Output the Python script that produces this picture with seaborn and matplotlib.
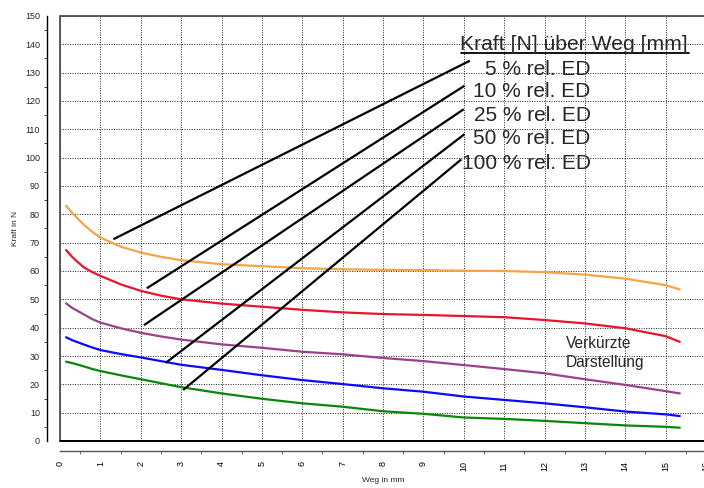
import matplotlib
matplotlib.use("Agg")
import matplotlib.pyplot as plt
import seaborn as sns
import pandas as pd
from matplotlib.patches import Rectangle

weg = [0.15, 0.3, 0.45, 0.6, 0.8, 1, 1.5, 2, 2.5, 3, 4, 5, 6, 7, 8, 9, 10, 11, 12, 13, 14, 15, 15.35]
kraft_5 = [83, 80.5, 78.3, 76.2, 73.8, 71.8, 68.6, 66.5, 65, 63.8, 62.4, 61.7, 61, 60.6, 60.4, 60.3, 60.1,
           60, 59.6, 58.7, 57.3, 55, 53.5]
kraft_10 = [67.4, 65, 63, 61.2, 59.6, 58.3, 55.3, 53, 51.3, 50, 48.5, 47.4, 46.3, 45.4, 44.8, 44.5, 44.1,
            43.7, 42.7, 41.5, 39.8, 37, 35]
kraft_25 = [48.6, 47, 45.8, 44.6, 43, 41.8, 39.8, 38.2, 36.9, 35.8, 34.1, 32.9, 31.5, 30.6, 29.3, 28.2,
            26.8, 25.4, 23.9, 21.8, 19.8, 17.6, 16.8]
kraft_50 = [36.6, 35.6, 34.8, 34, 33, 32.1, 30.7, 29.5, 28.2, 26.9, 25.1, 23.2, 21.5, 20.1, 18.6, 17.4,
            15.7, 14.5, 13.3, 11.9, 10.4, 9.4, 8.8]
kraft_100 = [28, 27.5, 26.9, 26.3, 25.4, 24.7, 23.2, 21.8, 20.4, 19, 16.8, 14.9, 13.3, 12.1, 10.5, 9.6,
             8.3, 7.8, 7.1, 6.3, 5.5, 5.0, 4.7]

labels = ["5 % rel. ED", "10 % rel. ED", "25 % rel. ED", "50 % rel. ED", "100 % rel. ED"]
colors = ["#f7a447", "#e8142e", "#9b3f8e", "#0a0aff", "#0a870a"]

# Hinweislinien: Punkt an der Kurve -> Punkt am Text
pfeil_x = [1.32, 2.15, 2.08, 2.62, 3.05]
pfeil_y = [71.2, 53.9, 40.9, 27.6, 18.0]
text_x = [10.15, 10.02, 10.0, 10.02, 9.94]
text_y = [134.2, 125.4, 117.1, 108.3, 99.4]
label_y = [131.2, 123.2, 114.8, 106.6, 97.8]

sns.set_style("white")
plt.rcParams['font.family'] = ['Liberation Sans', 'DejaVu Sans']

fig = plt.figure(figsize=(7.04, 4.88), dpi=100)
ax = fig.add_axes([60 / 704, 47 / 488, 646 / 704, 425 / 488])

serien = [kraft_5, kraft_10, kraft_25, kraft_50, kraft_100]
for werte, farbe, name in zip(serien, colors, labels):
    df = pd.DataFrame({"Weg": weg, "Kraft": werte})
    sns.lineplot(data=df, x="Weg", y="Kraft", color=farbe, linewidth=1.6, ax=ax, label=name)
ax.get_legend().remove()

ax.set_xlim(0, 16)
ax.set_ylim(0, 150)
ax.set_xticks(range(0, 17))
ax.set_yticks(range(0, 151, 10))
ax.set_xticks([i + 0.5 for i in range(16)], minor=True)
ax.set_yticks(range(5, 150, 10), minor=True)
ax.grid(True, which="major", linestyle=(0, (1, 1.5)), color="#222222", linewidth=0.7)

# Achsen versetzt wie im Original
for s in ["top", "right"]:
    ax.spines[s].set_visible(False)
ax.spines["left"].set_position(("outward", 9.5))
ax.spines["bottom"].set_position(("outward", 7.5))
ax.spines["left"].set_color("black")
ax.spines["bottom"].set_color("#555555")
ax.spines["left"].set_linewidth(1.0)
ax.spines["bottom"].set_linewidth(1.0)
ax.tick_params(axis="y", which="major", direction="out", length=4, width=0.8, labelsize=6.5, pad=1)
ax.tick_params(axis="y", which="minor", direction="out", length=2.5, width=0.6, left=True)
ax.tick_params(axis="x", which="major", direction="out", length=4, width=0.8, labelsize=6.5,
               labelrotation=90, pad=3, colors="#555555", labelcolor="black")
ax.tick_params(axis="x", which="minor", direction="out", length=2.5, width=0.6, bottom=True,
               colors="#555555")

# Rahmen des Diagramms
ax.add_patch(Rectangle((0, 0), 1, 1, transform=ax.transAxes, fill=False,
                       edgecolor="#444444", linewidth=1.2, clip_on=False))
ax.plot([0, 1], [0, 0], transform=ax.transAxes, color="black", linewidth=1.4, clip_on=False)

ax.set_xlabel("Weg in mm", fontsize=6, labelpad=4)
ax.set_ylabel("Kraft in N", fontsize=6, labelpad=4)

for px, py, tx, ty in zip(pfeil_x, pfeil_y, text_x, text_y):
    ax.plot([px, tx], [py, ty], color="black", linewidth=1.6, solid_capstyle="butt")

for name, ly in zip(labels, label_y):
    ax.text(13.14, ly, name, ha="right", va="center", fontsize=15)

ax.text(9.9, 140.0, "Kraft [N] über Weg [mm]", ha="left", va="center", fontsize=15.2)
ax.plot([9.92, 15.57], [137.0, 137.0], color="black", linewidth=1.3)

ax.text(12.53, 34.5, "Verkürzte", ha="left", va="center", fontsize=11.2)
ax.text(12.53, 27.6, "Darstellung", ha="left", va="center", fontsize=11.2)

fig.savefig("out.png", dpi=100)
